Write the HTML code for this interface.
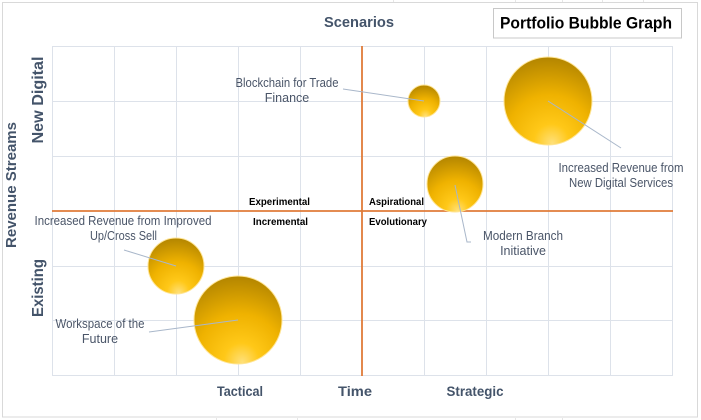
<!DOCTYPE html>
<html><head><meta charset="utf-8"><style>
html,body{margin:0;padding:0;background:#fff;}
svg{display:block;}
text{font-family:"Liberation Sans",Arial,sans-serif;}
</style></head><body>
<svg width="701" height="420" viewBox="0 0 701 420" xmlns="http://www.w3.org/2000/svg">
<defs>
<radialGradient id="g" cx="0.5" cy="0.88" r="0.9" fx="0.55" fy="0.98">
<stop offset="0" stop-color="#ffe07a"/>
<stop offset="0.22" stop-color="#ffc818"/>
<stop offset="0.55" stop-color="#efb200"/>
<stop offset="1" stop-color="#b08300"/>
</radialGradient>
</defs>
<rect x="0" y="0" width="701" height="420" fill="#fff"/>
<!-- faint excel cells outside -->
<g stroke="#e6e6e6" stroke-width="1">
<line x1="393.5" y1="0" x2="393.5" y2="2"/><line x1="515.5" y1="0" x2="515.5" y2="2"/>
<line x1="562.5" y1="0" x2="562.5" y2="2"/><line x1="602.5" y1="0" x2="602.5" y2="2"/>
<line x1="643.5" y1="0" x2="643.5" y2="2"/>
<line x1="216.5" y1="418" x2="216.5" y2="420"/><line x1="297.5" y1="418" x2="297.5" y2="420"/>
<line x1="515.5" y1="418" x2="515.5" y2="420"/><line x1="562.5" y1="418" x2="562.5" y2="420"/>
</g>
<!-- chart border -->
<rect x="2.5" y="2.5" width="695" height="414.5" fill="#fff" stroke="#d9d9d9" stroke-width="1"/>
<!-- gridlines -->
<g stroke="#dde2ea" stroke-width="1">
<line x1="52.5" y1="46" x2="52.5" y2="375.5"/>
<line x1="114.5" y1="46" x2="114.5" y2="375.5"/>
<line x1="176.5" y1="46" x2="176.5" y2="375.5"/>
<line x1="238.5" y1="46" x2="238.5" y2="375.5"/>
<line x1="300.5" y1="46" x2="300.5" y2="375.5"/>
<line x1="424.5" y1="46" x2="424.5" y2="375.5"/>
<line x1="486.5" y1="46" x2="486.5" y2="375.5"/>
<line x1="548.5" y1="46" x2="548.5" y2="375.5"/>
<line x1="610.5" y1="46" x2="610.5" y2="375.5"/>
<line x1="672.5" y1="46" x2="672.5" y2="375.5"/>
<line x1="52" y1="46.5" x2="673" y2="46.5"/>
<line x1="52" y1="101.5" x2="673" y2="101.5"/>
<line x1="52" y1="156.5" x2="673" y2="156.5"/>
<line x1="52" y1="266.5" x2="673" y2="266.5"/>
<line x1="52" y1="320.5" x2="673" y2="320.5"/>
<line x1="52" y1="375.5" x2="673" y2="375.5"/>
</g>
<!-- orange quadrant lines -->
<g stroke="#e07b39" stroke-width="1.8">
<line x1="52" y1="211" x2="673" y2="211"/>
<line x1="362" y1="46" x2="362" y2="376"/>
</g>
<!-- bubbles -->
<g stroke="#ffe596" stroke-width="1">
<circle cx="424" cy="101" r="16" fill="url(#g)"/>
<circle cx="548" cy="101" r="44" fill="url(#g)"/>
<circle cx="455" cy="184" r="28" fill="url(#g)"/>
<circle cx="176" cy="266" r="28" fill="url(#g)"/>
<circle cx="238" cy="320" r="44" fill="url(#g)"/>
</g>
<!-- leader lines -->
<g stroke="#a9b7ca" stroke-width="1" fill="none">
<polyline points="343,89 424,101"/>
<polyline points="548,101 621,148"/>
<polyline points="455,185 467,242 471,242"/>
<polyline points="124,250 176,266"/>
<polyline points="149,332 238,320"/>
</g>
<!-- data labels -->
<g fill="#4a5568" font-size="12.5" text-anchor="middle">
<text x="287" y="87" textLength="103" lengthAdjust="spacingAndGlyphs">Blockchain for Trade</text>
<text x="287" y="102">Finance</text>
<text x="621" y="172" textLength="125" lengthAdjust="spacingAndGlyphs">Increased Revenue from</text>
<text x="621" y="187" textLength="104" lengthAdjust="spacingAndGlyphs">New Digital Services</text>
<text x="523" y="240" textLength="80" lengthAdjust="spacingAndGlyphs">Modern Branch</text>
<text x="523" y="255">Initiative</text>
<text x="123" y="225" textLength="177" lengthAdjust="spacingAndGlyphs">Increased Revenue from Improved</text>
<text x="123.5" y="240" textLength="67" lengthAdjust="spacingAndGlyphs">Up/Cross Sell</text>
<text x="100" y="328" textLength="89" lengthAdjust="spacingAndGlyphs">Workspace of the</text>
<text x="100" y="343">Future</text>
</g>
<!-- quadrant labels -->
<g fill="#000" font-size="9.8" font-weight="bold">
<text x="249" y="205" textLength="61" lengthAdjust="spacingAndGlyphs">Experimental</text>
<text x="253" y="225" textLength="55" lengthAdjust="spacingAndGlyphs">Incremental</text>
<text x="369" y="205" textLength="55" lengthAdjust="spacingAndGlyphs">Aspirational</text>
<text x="369" y="225" textLength="58" lengthAdjust="spacingAndGlyphs">Evolutionary</text>
</g>
<!-- axis titles -->
<g fill="#44546a" font-weight="bold" text-anchor="middle">
<text x="359" y="27" font-size="15" textLength="70" lengthAdjust="spacingAndGlyphs">Scenarios</text>
<text x="240" y="396" font-size="14" textLength="46" lengthAdjust="spacingAndGlyphs">Tactical</text>
<text x="355" y="396" font-size="14" textLength="34" lengthAdjust="spacingAndGlyphs">Time</text>
<text x="475" y="396" font-size="14" textLength="57" lengthAdjust="spacingAndGlyphs">Strategic</text>
<text transform="translate(16,185) rotate(-90)" font-size="15" textLength="126" lengthAdjust="spacingAndGlyphs">Revenue Streams</text>
<text transform="translate(43,100) rotate(-90)" font-size="15.5" textLength="87" lengthAdjust="spacingAndGlyphs">New Digital</text>
<text transform="translate(43,288) rotate(-90)" font-size="15.5" textLength="58" lengthAdjust="spacingAndGlyphs">Existing</text>
</g>
<!-- title box -->
<rect x="493.5" y="8.5" width="188" height="29.5" fill="#fff" stroke="#c8c8c8" stroke-width="1"/>
<text x="586" y="28.5" fill="#000" font-size="17" font-weight="bold" text-anchor="middle" textLength="172" lengthAdjust="spacingAndGlyphs">Portfolio Bubble Graph</text>
</svg>
</body></html>
